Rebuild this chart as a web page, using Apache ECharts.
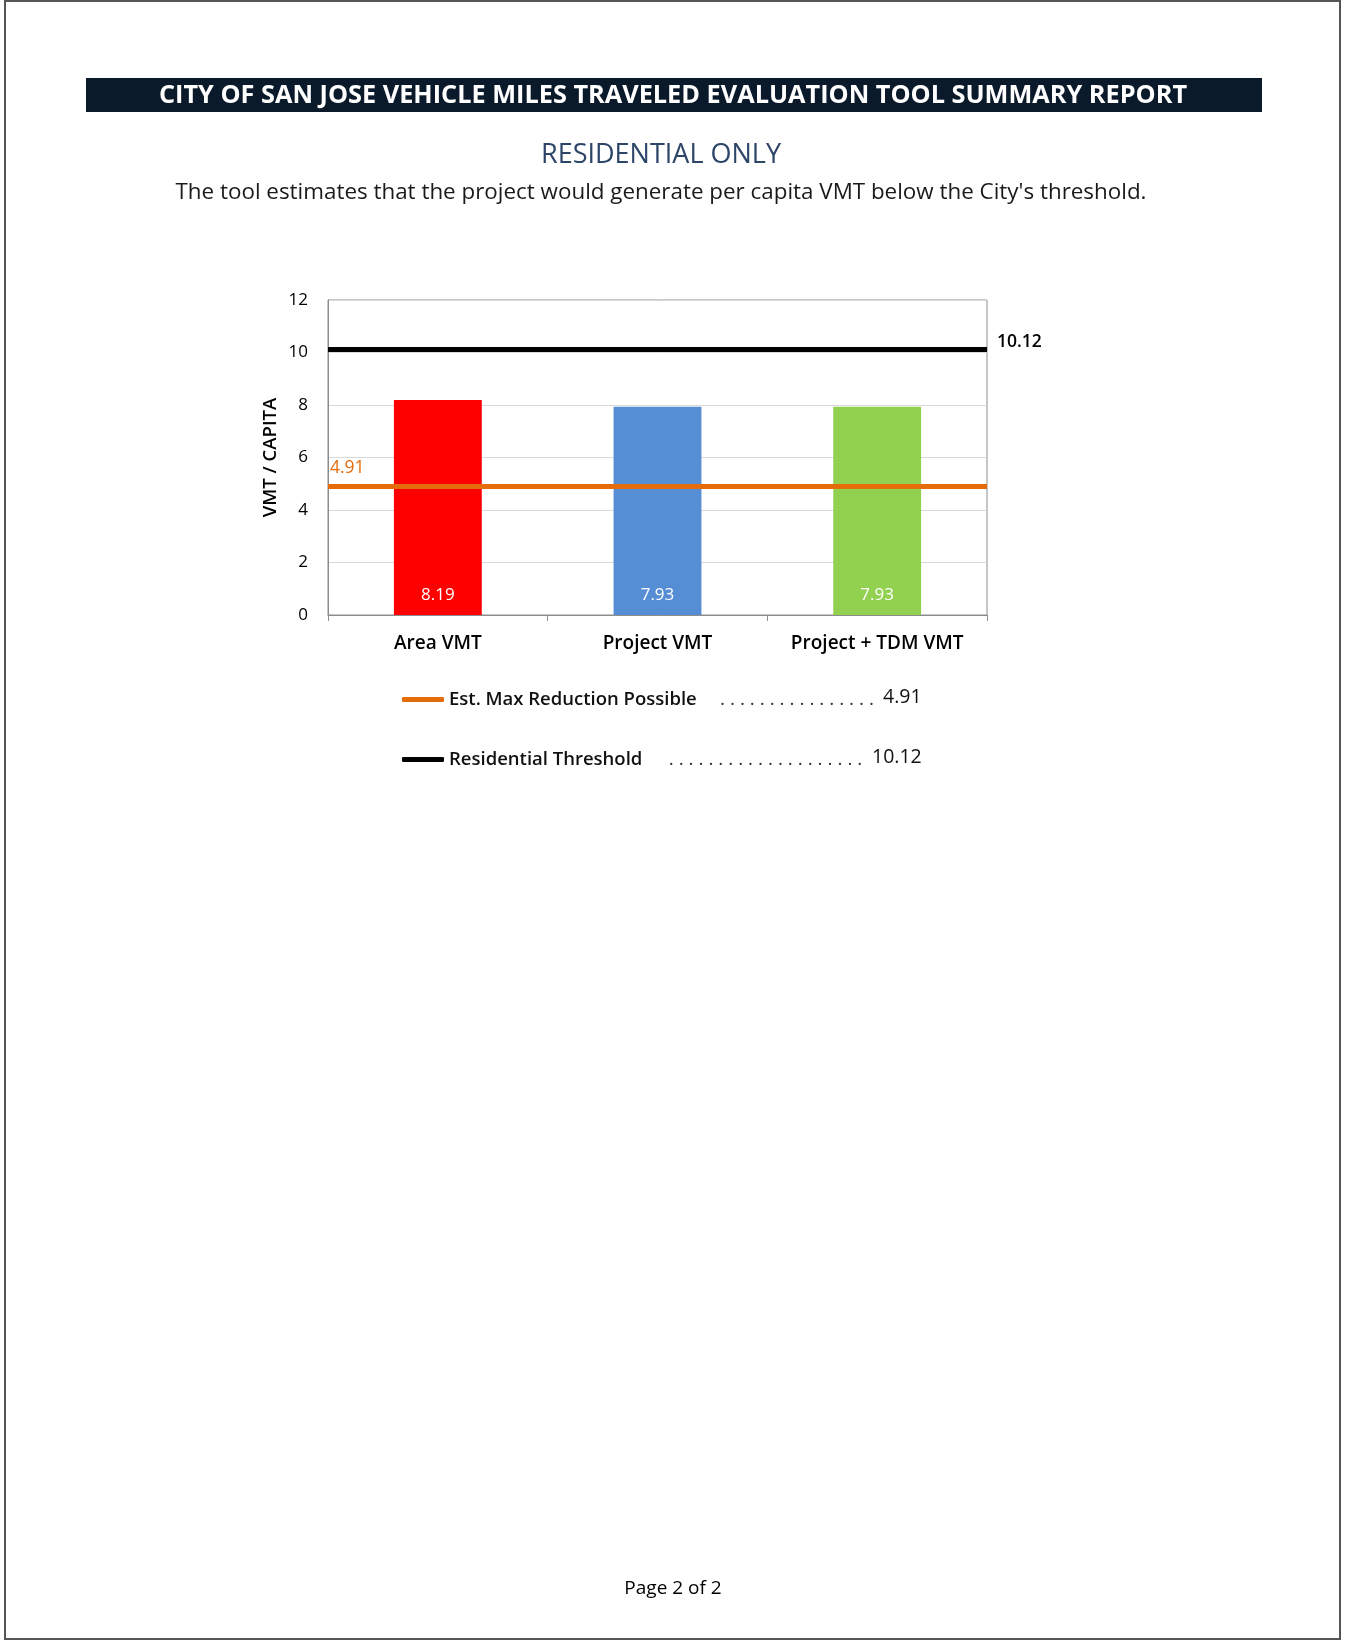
<!DOCTYPE html>
<html>
<head>
<meta charset="utf-8">
<title>VMT Summary Report</title>
<script src="https://cdn.jsdelivr.net/npm/echarts@6/dist/echarts.min.js"></script>
<style>
    html, body { margin: 0; padding: 0; background: #fff; }
    #page { width: 1347px; height: 1642px; }
</style>
</head>
<body>
<div id="page"></div>
<script>
/**
 * VMT 评估报告 - 住宅
 */
var categories = ['Area VMT', 'Project VMT', 'Project + TDM VMT'];
var vmtValues = [8.19, 7.93, 7.93];
var barColors = ['#ff0000', '#558ed5', '#92d050'];
var yTicks = [0, 2, 4, 6, 8, 10, 12];
var thresholdValue = 10.12;
var maxReductionValue = 4.91;
var legendNames = ['Est. Max Reduction Possible', 'Residential Threshold'];

const vmtReport = {
    init: function () {
        this.render();
    },
    legendText: function (name) {
        var dots = function (n) { return new Array(n).fill('.').join(' '); };
        if (name == legendNames[0]) {
            return '{n1|' + name + '}{d1|' + dots(16) + '}{v|' + maxReductionValue.toFixed(2) + '}';
        }
        return '{n2|' + name + '}{d2|' + dots(20) + '}{v|' + thresholdValue.toFixed(2) + '}';
    },
    render: function () {
        var _this = this;
        var font = '"Open Sans", "DejaVu Sans", sans-serif';
        var nameStyle = { fontSize: 18.5, fontWeight: 600, color: '#111', lineHeight: 24, fontFamily: font };

        var option = {
            textStyle: { fontFamily: font },
            title: [
                {
                    text: 'CITY OF SAN JOSE VEHICLE MILES TRAVELED EVALUATION TOOL SUMMARY REPORT',
                    left: 673, top: 83, textAlign: 'center', padding: 0,
                    textStyle: { color: '#fff', fontSize: 25.3, fontWeight: 'bold', fontFamily: font }
                },
                {
                    text: 'RESIDENTIAL ONLY',
                    left: 661, top: 142, textAlign: 'center', padding: 0,
                    textStyle: { color: '#2d4668', fontSize: 27, fontWeight: 'normal', fontFamily: font }
                },
                {
                    text: "The tool estimates that the project would generate per capita VMT below the City's threshold.",
                    left: 661, top: 182, textAlign: 'center', padding: 0,
                    textStyle: { color: '#1a1a1a', fontSize: 22.4, fontWeight: 'normal', fontFamily: font }
                },
                {
                    text: 'Page 2 of 2',
                    left: 673, top: 1579, textAlign: 'center', padding: 0,
                    textStyle: { color: '#000', fontSize: 19, fontWeight: 'normal', fontFamily: font }
                }
            ],
            graphic: [
                {
                    type: 'rect', z: -10,
                    shape: { x: 5, y: 1, width: 1335, height: 1638 },
                    style: { fill: 'none', stroke: '#555', lineWidth: 2 }
                },
                {
                    type: 'rect', z: -5,
                    shape: { x: 86, y: 78, width: 1176, height: 34 },
                    style: { fill: '#0b1a2b' }
                }
            ],
            legend: {
                data: legendNames,
                orient: 'vertical',
                left: 397,
                top: 682,
                itemGap: 38,
                itemWidth: 42,
                itemHeight: 5,
                icon: 'roundRect',
                selectedMode: false,
                formatter: function (name) { return _this.legendText(name); },
                textStyle: {
                    rich: {
                        n1: Object.assign({ width: 266 }, nameStyle),
                        n2: Object.assign({ width: 214 }, nameStyle),
                        d1: { fontSize: 19, color: '#333', width: 164, align: 'right', fontFamily: font },
                        d2: { fontSize: 19, color: '#333', width: 205, align: 'right', fontFamily: font },
                        v: { fontSize: 19.5, color: '#111', padding: [0, 0, 5, 4], fontFamily: font }
                    }
                }
            },
            grid: {
                left: 328,
                top: 300,
                width: 659,
                height: 315,
                show: true,
                borderColor: '#8c8c8c',
                borderWidth: 1
            },
            xAxis: {
                type: 'category',
                data: categories,
                axisLine: { lineStyle: { color: '#8c8c8c' } },
                axisTick: { show: true, length: 6, lineStyle: { color: '#8c8c8c' } },
                axisLabel: { interval: 0, color: '#000', fontSize: 19, fontWeight: 600, margin: 19 }
            },
            yAxis: {
                type: 'value',
                min: yTicks[0],
                max: yTicks[yTicks.length - 1],
                interval: yTicks[1] - yTicks[0],
                name: 'VMT / CAPITA',
                nameLocation: 'middle',
                nameGap: 48,
                nameTextStyle: { color: '#000', fontSize: 18.5, fontWeight: 600 },
                axisLine: { show: true, lineStyle: { color: '#8c8c8c' } },
                axisTick: { show: false },
                axisLabel: { color: '#000', fontSize: 17, margin: 20 },
                splitLine: { lineStyle: { color: '#d9d9d9' } }
            },
            series: [
                {
                    name: 'VMT',
                    type: 'bar',
                    barWidth: '40%',
                    data: vmtValues.map(function (v, i) {
                        return { value: v, itemStyle: { color: barColors[i] } };
                    }),
                    label: {
                        show: true,
                        position: 'insideBottom',
                        distance: 11,
                        color: '#fff',
                        fontSize: 17,
                        formatter: function (p) { return p.value.toFixed(2); }
                    }
                },
                {
                    name: legendNames[0],
                    type: 'line',
                    data: [],
                    color: '#e46c0a',
                    markLine: {
                        silent: true,
                        symbol: 'none',
                        lineStyle: { color: '#e46c0a', width: 5, type: 'solid' },
                        label: {
                            position: 'insideStartTop',
                            distance: [2, 9],
                            color: '#e46c0a',
                            fontSize: 17.5,
                            formatter: maxReductionValue.toFixed(2)
                        },
                        data: [{ yAxis: maxReductionValue }]
                    }
                },
                {
                    name: legendNames[1],
                    type: 'line',
                    data: [],
                    color: '#000',
                    markLine: {
                        silent: true,
                        symbol: 'none',
                        lineStyle: { color: '#000', width: 5, type: 'solid' },
                        label: {
                            position: 'end',
                            distance: 10,
                            formatter: '{a|' + thresholdValue.toFixed(2) + '}\n{b|}',
                            rich: {
                                a: { color: '#000', fontSize: 17.5, fontWeight: 600, lineHeight: 22, fontFamily: font },
                                b: { lineHeight: 14 }
                            }
                        },
                        data: [{ yAxis: thresholdValue }]
                    }
                }
            ]
        };

        var container = document.getElementById('page');
        const myChart = echarts.init(container);
        myChart.clear();
        myChart.setOption(option);
    }
};

vmtReport.init();
</script>
</body>
</html>
